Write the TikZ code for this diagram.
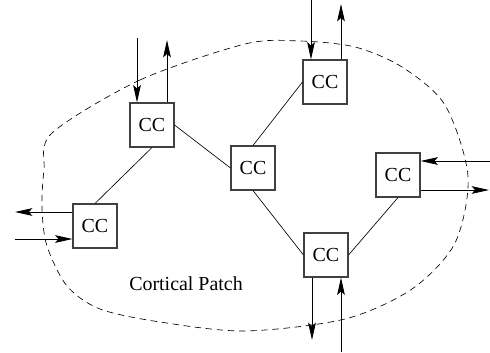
\documentclass[tikz,border=0pt]{standalone}
\usepackage{fontspec}
\setmainfont{Liberation Serif}
\usetikzlibrary{arrows.meta}

\tikzset{
    cell/.style={rectangle,draw=black!75,line width=0.9pt,minimum size=1.32cm,inner sep=0pt,font=\fontsize{17}{19}\selectfont},
    link/.style={line width=0.55pt},
    io/.style={line width=0.75pt,-{Stealth[length=5.2mm,width=2.3mm,inset=1mm]}},
    patch/.style={dash pattern=on 5.5pt off 4pt,line width=0.55pt}
}

\begin{document}
\begin{tikzpicture}[x=0.03cm,y=-0.03cm]
\useasboundingbox (0,0) rectangle (490,352);
% cortical columns
\node[cell] (ccA) at (152,125) {CC};
\node[cell] (ccB) at (253,168) {CC};
\node[cell] (ccC) at (325,82) {CC};
\node[cell] (ccD) at (398,175) {CC};
\node[cell] (ccE) at (95,226) {CC};
\node[cell] (ccF) at (326,255) {CC};
% lateral links
\draw[link] (ccA.south) -- (ccE.north);
\draw[link] (ccA.east) -- (ccB.west);
\draw[link] (ccC.west) -- (ccB.north);
\draw[link] (ccB.south) -- (ccF.west);
\draw[link] (ccF.east) -- (ccD.south);
% free ends of the inputs and outputs
\coordinate (inA) at (137,38);
\coordinate (outA) at (167,40);
\coordinate (inC) at (311,0);
\coordinate (outC) at (341,4);
\coordinate (inD) at (490,161);
\coordinate (outD) at (489,190);
\coordinate (outE) at (15,212);
\coordinate (inE) at (15,239);
\coordinate (outF) at (312,340);
\coordinate (inF) at (341,352);
\draw[io] (inA) -- (inA |- ccA.north);
\draw[io] (outA |- ccA.north) -- (outA);
\draw[io] (inC) -- (inC |- ccC.north);
\draw[io] (outC |- ccC.north) -- (outC);
\draw[io] (inD) -- (inD -| ccD.east);
\draw[io] (outD -| ccD.east) -- (outD);
\draw[io] (outE -| ccE.west) -- (outE);
\draw[io] (inE) -- (inE -| ccE.west);
\draw[io] (outF |- ccF.south) -- (outF);
\draw[io] (inF) -- (inF |- ccF.south);
% patch boundary
\draw[patch] plot[smooth cycle,tension=0.5] coordinates {
    (52,133) (140,80) (245,44) (300,41) (355,47) (402,67) (445,105) (468,176)
    (455,243) (412,289) (345,319) (245,331) (160,322) (100,309) (67,286)
    (47,246) (42,209) (44,170)};
\node[font=\fontsize{17}{19}\selectfont] (label) at (186,284) {Cortical Patch};
\end{tikzpicture}
\end{document}
